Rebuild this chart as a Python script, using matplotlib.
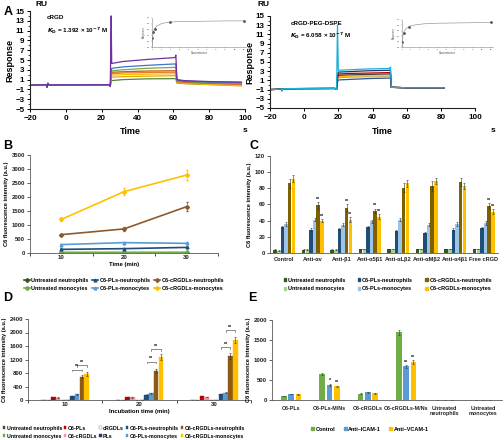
import numpy as np
import matplotlib
matplotlib.use("Agg")
import matplotlib.pyplot as plt
from matplotlib.patches import Patch
from matplotlib.lines import Line2D

plt.rcParams['font.family'] = ['Liberation Sans', 'DejaVu Sans']
plt.rcParams['font.weight'] = 'bold'
plt.rcParams['axes.labelweight'] = 'bold'

# ---------------- data ----------------
# Panel A (left): cRGD sensorgrams
tA = [-20, -11, -10.5, -10, -9.5, 24, 24.8, 25.3, 25.6, 32, 45, 61, 61.4, 62, 66, 80, 98]
A_colors = ['#548235', '#e6a800', '#ffc000', '#ed7d31', '#c55a11', '#70ad47', '#4472c4', '#7030a0']
A_curves = [
    [-0.15, -0.05, -0.5, 0.2, -0.1, -0.05, -0.3, 0.6, 0.8, 1.0, 1.15, 1.2, 1.2, 0.3, 0.2, 0.0, -0.1],
    [-0.15, -0.05, -0.5, 0.2, -0.1, -0.05, -0.3, 1.1, 1.5, 1.6, 1.7, 1.8, 1.8, 0.4, 0.2, 0.0, -0.3],
    [-0.15, -0.05, -0.5, 0.2, -0.1, -0.05, -0.3, 1.4, 1.9, 2.0, 2.1, 2.2, 2.2, 0.5, 0.3, 0.1, -0.2],
    [-0.15, -0.05, -0.5, 0.2, -0.1, -0.05, -0.3, 1.6, 2.2, 2.35, 2.45, 2.5, 2.5, 0.6, 0.4, 0.2, 0.0],
    [-0.15, -0.05, -0.5, 0.2, -0.1, -0.05, -0.3, 1.9, 2.5, 2.6, 2.75, 2.8, 2.8, 0.7, 0.5, 0.3, 0.1],
    [-0.15, -0.05, -0.5, 0.2, -0.1, -0.05, -0.3, 2.1, 2.8, 3.0, 3.3, 3.5, 3.5, 0.8, 0.6, 0.4, 0.2],
    [-0.15, -0.05, -0.5, 0.2, -0.1, -0.05, -0.3, 2.5, 3.3, 3.6, 3.9, 4.2, 4.2, 0.9, 0.7, 0.5, 0.4],
    [-0.15, -0.05, -0.6, 0.3, -0.1, -0.05, -0.4, 14.0, 4.3, 4.7, 5.1, 5.5, 6.0, 1.0, 0.8, 0.6, 0.5],
]
# Panel A (right): cRGD-PEG-DSPE sensorgrams
tR = [-20, -13.5, -13, -12.5, 18, 19, 19.5, 20, 26, 38, 50, 50.5, 51, 60, 82]
R_colors = ['#2f5597', '#a5a5a5', '#ffc000', '#404040', '#c00000', '#203864', '#1cb0d8']
R_curves = [
    [-1.0, -0.9, -1.2, -0.8, -0.75, -0.9, 0.6, 1.1, 1.2, 1.4, 1.5, 1.5, -0.5, -0.6, -0.6],
    [-1.0, -0.9, -1.2, -0.8, -0.75, -0.9, 1.0, 1.6, 1.7, 1.8, 1.8, 1.8, -0.5, -0.6, -0.6],
    [-1.0, -0.9, -1.2, -0.8, -0.75, -0.9, 1.2, 1.8, 1.9, 2.0, 2.0, 2.0, -0.5, -0.6, -0.6],
    [-1.0, -0.9, -1.2, -0.8, -0.75, -0.9, 1.4, 2.1, 2.2, 2.3, 2.4, 2.4, -0.5, -0.6, -0.6],
    [-1.0, -0.9, -1.2, -0.8, -0.75, -0.9, 1.6, 2.4, 2.5, 2.6, 2.7, 2.7, -0.5, -0.6, -0.6],
    [-1.0, -0.9, -1.2, -0.8, -0.75, -0.9, 1.9, 2.8, 2.9, 3.1, 3.2, 3.2, -0.5, -0.6, -0.6],
    [-1.0, -0.9, -1.3, -0.8, -0.75, -0.9, 13.0, 3.2, 3.3, 3.5, 3.6, 3.9, -0.5, -0.6, -0.6],
]
# insets (affinity fits)
inL_fit_x = [0, 0.2, 0.5, 1, 2, 3, 5, 8, 12, 16, 20]
inL_fit_y = [0.0, 0.45, 0.62, 0.72, 0.8, 0.84, 0.87, 0.88, 0.89, 0.9, 0.9]
inL_pts_x = [0.1, 0.3, 0.6, 4.0, 20]
inL_pts_y = [0.3, 0.5, 0.62, 0.86, 0.9]
inR_fit_x = [0, 0.2, 0.5, 1, 2, 3, 5, 8, 12, 16, 20]
inR_fit_y = [0.0, 0.4, 0.58, 0.7, 0.78, 0.82, 0.86, 0.88, 0.89, 0.9, 0.91]
inR_pts_x = [0.1, 0.4, 1.5, 20]
inR_pts_y = [0.2, 0.5, 0.74, 0.91]

# Panel B
B_times = ['10', '20', '30']
B_labels = ['Untreated neutrophils', 'Untreated monocytes', 'C6-PLs-neutrophils',
            'C6-PLs-monocytes', 'C6-cRGDLs-neutrophils', 'C6-cRGDLs-monocytes']
B_colors = ['#375623', '#70ad47', '#1f4e79', '#5b9bd5', '#8c5a2b', '#ffc000']
B_markers = ['D', 'D', '^', '^', 'D', 'D']
B_vals = [[10, 10, 12], [20, 22, 20], [130, 155, 200], [300, 370, 345],
          [655, 860, 1655], [1200, 2190, 2785]]
B_err = [[10, 10, 10], [10, 10, 10], [20, 25, 25], [25, 30, 30],
         [40, 60, 150], [60, 130, 170]]

# Panel C
C_cats = ['Control', 'Anti-αv', 'Anti-β1', 'Anti-α5β1', 'Anti-αLβ2', 'Anti-αMβ2',
          'Anti-α4β1', 'Free cRGD']
C_labels = B_labels
C_colors = ['#375623', '#a9d18e', '#1f4e79', '#9dc3e6', '#7f6000', '#ffc000']
C_vals = [
    [4, 4, 4, 5, 5, 5, 5, 5],
    [3, 4, 4, 5, 5, 5, 5, 5],
    [32, 29, 30, 32, 27, 25, 29, 31],
    [36, 41, 35, 39, 41, 35, 36, 37],
    [86, 59, 56, 52, 81, 83, 88, 58],
    [92, 40, 41, 45, 86, 89, 83, 51],
]
C_err = [
    [0.5, 0.5, 0.5, 0.5, 0.5, 0.5, 0.5, 0.5],
    [0.5, 0.5, 0.5, 0.5, 0.5, 0.5, 0.5, 0.5],
    [1.5, 1.5, 1.5, 1.5, 1.5, 1.5, 1.5, 1.5],
    [2, 2, 2, 2, 2, 2, 2, 2],
    [5, 4, 4, 3, 5, 6, 5, 4],
    [4, 2, 3, 3, 4, 4, 4, 3],
]
C_star_cats = [1, 2, 3, 7]

# Panel D
D_times = ['10', '20', '30']
D_labels = ['Untreated neutrophils', 'Untreated monocytes', 'C6-PLs', 'C6-cRGDLs',
            'cRGDLs', 'PLs', 'C6-PLs-neutrophils', 'C6-PLs-monocytes',
            'C6-cRGDLs-neutrophils', 'C6-cRGDLs-monocytes']
D_colors = ['#375623', '#70ad47', '#c00000', '#ff8fa0', '#ffffff', '#1f3864',
            '#1f4e79', '#5b9bd5', '#8c5a14', '#ffc000']
D_vals = [[3, 3, 3], [3, 3, 3], [80, 80, 110], [70, 80, 90], [2, 2, 2], [2, 2, 2],
          [110, 150, 175], [175, 195, 220], [690, 860, 1300], [775, 1270, 1780]]
D_err = [[2, 2, 2], [2, 2, 2], [10, 10, 10], [10, 10, 10], [1, 1, 1], [1, 1, 1],
         [15, 15, 15], [15, 15, 15], [50, 60, 80], [50, 80, 90]]
D_br_low = [900, 1140, 1570]
D_br_high = [1040, 1500, 2060]

# Panel E
E_cats = ['C6-PLs', 'C6-PLs-M/Ns', 'C6-cRGDLs', 'C6-cRGDLs-M/Ns',
          'Untreated\nneutrophils', 'Untreated\nmonocytes']
E_labels = ['Control', 'Anti–ICAM-1', 'Anti–VCAM-1']
E_colors = ['#70ad47', '#5b9bd5', '#ffc000']
E_vals = [[100, 660, 160, 1690, 2, 2],
          [150, 380, 190, 840, 2, 2],
          [140, 340, 170, 950, 2, 2]]
E_err = [[10, 25, 10, 60, 0, 0],
         [10, 20, 10, 30, 0, 0],
         [10, 20, 10, 40, 0, 0]]
E_stars = [(1, 1, '*'), (1, 2, '**'), (3, 1, '**'), (3, 2, '**')]

# ---------------- figure ----------------
W, H = 504, 440
fig = plt.figure(figsize=(W / 100, H / 100), dpi=100)


def ax_px(l, t, r, b):
    return fig.add_axes([l / W, 1 - b / H, (r - l) / W, (b - t) / H])


def style(ax, fs=4.3):
    for s in ['top', 'right']:
        ax.spines[s].set_visible(False)
    for s in ['left', 'bottom']:
        ax.spines[s].set_linewidth(0.6)
        ax.spines[s].set_color('#595959')
    ax.tick_params(labelsize=fs, width=0.5, length=2, pad=1.5, colors='#222222')


# ---- A sensorgrams
def sensorgram(ax, t, curves, colors):
    for y, c in zip(curves, colors):
        ax.plot(t, y, color=c, lw=0.9)
    ax.set_xlim(-20, 100)
    ax.set_ylim(-5, 15)
    ax.set_xticks(range(-20, 101, 20))
    ax.set_yticks(range(-5, 16, 2))
    ax.set_yticks(range(-4, 15, 2), minor=True)
    for s in ['top', 'right']:
        ax.spines[s].set_visible(False)
    for s in ['left', 'bottom']:
        ax.spines[s].set_linewidth(0.8)
        ax.spines[s].set_color('#222222')
    ax.tick_params(labelsize=5.8, width=0.7, length=2.5, pad=1.5)
    ax.tick_params(which='minor', length=1.5, width=0.5)
    ax.set_ylabel('Response', fontsize=6.5, labelpad=1)


axA1 = ax_px(30, 11, 245, 109)
sensorgram(axA1, tA, A_curves, A_colors)
axA1.text(0.08, 0.92, 'cRGD', transform=axA1.transAxes, fontsize=4.5)
axA1.text(0.08, 0.78, r'$K_{\rm D}$ = 1.392 × 10$^{-7}$ M', transform=axA1.transAxes, fontsize=4.5)

axA2 = ax_px(270, 16, 475, 108)
sensorgram(axA2, tR, R_curves, R_colors)
axA2.text(0.1, 0.9, 'cRGD-PEG-DSPE', transform=axA2.transAxes, fontsize=4.5)
axA2.text(0.1, 0.76, r'$K_{\rm D}$ = 6.058 × 10$^{-7}$ M', transform=axA2.transAxes, fontsize=4.5)

for l, t, r, b, fx, fy, px, py in [(152, 18, 246, 47, inL_fit_x, inL_fit_y, inL_pts_x, inL_pts_y),
                                   (402, 20, 493, 47, inR_fit_x, inR_fit_y, inR_pts_x, inR_pts_y)]:
    ins = ax_px(l, t, r, b)
    ins.plot(fx, fy, color='#9a9a9a', lw=0.5)
    ins.plot(px, py, 'o', ms=1.0, color='#555555')
    ins.set_xlim(0, 20.5)
    ins.set_ylim(0, 1.0)
    ins.set_xticks(range(0, 21, 2))
    ins.set_yticks([0, 0.2, 0.4, 0.6, 0.8, 1.0])
    ins.tick_params(labelsize=1.5, length=1, width=0.3, pad=0.5, colors='#777777')
    for s in ['top', 'right']:
        ins.spines[s].set_visible(False)
    for s in ['left', 'bottom']:
        ins.spines[s].set_linewidth(0.4)
        ins.spines[s].set_color('#888888')
    ins.set_xlabel('Concentration', fontsize=1.8, labelpad=0.5, color='#777777')
    ins.set_ylabel('Response', fontsize=1.8, labelpad=0.5, color='#777777')
    ins.patch.set_alpha(0)

fig.text(35 / W, 1 - 4 / H, 'RU', fontsize=6, va='center')
fig.text(258 / W, 1 - 4 / H, 'RU', fontsize=6, va='center')
fig.text(130 / W, 1 - 131 / H, 'Time', fontsize=6.5, va='center', ha='center')
fig.text(245 / W, 1 - 131 / H, 's', fontsize=6, va='center', ha='center')
fig.text(382 / W, 1 - 131 / H, 'Time', fontsize=6.5, va='center', ha='center')
fig.text(493 / W, 1 - 131 / H, 's', fontsize=6, va='center', ha='center')

# ---- B line chart
axB = ax_px(30, 155, 218, 253)
xb = np.arange(1, len(B_times) + 1)
hB = []
for lab, col, mk, v, e in zip(B_labels, B_colors, B_markers, B_vals, B_err):
    axB.errorbar(xb, v, yerr=e, color=col, marker=mk, ms=2, lw=1.2,
                 ecolor=col, elinewidth=0.5, capsize=0.8)
    hB.append(Line2D([0], [0], color=col, marker=mk, ms=2, lw=1.2))
axB.set_xlim(0.5, 3.5)
axB.set_ylim(0, 3500)
axB.set_yticks(range(0, 3501, 500))
axB.set_xticks(xb)
axB.set_xticklabels(B_times)
style(axB)
axB.tick_params(axis='x', length=0)
axB.set_xticks([0.5, 1.5, 2.5, 3.5], minor=True)
axB.tick_params(axis='x', which='minor', length=2, width=0.5)
axB.set_xlabel('Time (min)', fontsize=4.3, labelpad=1)
axB.set_ylabel('C6 fluorescence intensity (a.u.)', fontsize=4.1, labelpad=2)
fig.legend(hB, B_labels, loc='upper center', bbox_to_anchor=(124 / W, 1 - 275 / H), ncol=3,
           frameon=False, fontsize=4.0, handlelength=1.1, handletextpad=0.2,
           columnspacing=0.7, labelspacing=0.6, borderpad=0)

# ---- C bar chart
axC = ax_px(270, 156, 498, 253)
xc = np.arange(len(C_cats))
wC = 0.128
for i, (lab, col, v, e) in enumerate(zip(C_labels, C_colors, C_vals, C_err)):
    pos = xc + (i - 2.5) * wC
    axC.bar(pos, v, width=wC * 0.95, color=col, label=lab,
            yerr=e, error_kw=dict(elinewidth=0.4, capsize=0.8, capthick=0.4, ecolor='#333333'))
    if i >= 4:
        for k in C_star_cats:
            axC.text(pos[k], v[k] + e[k] + 0.5, '**', fontsize=3.8, ha='center', va='bottom')
axC.set_xlim(-0.5, len(C_cats) - 0.5)
axC.set_ylim(0, 120)
axC.set_yticks(range(0, 121, 20))
axC.set_xticks(xc)
axC.set_xticklabels(C_cats)
style(axC)
axC.tick_params(axis='x', length=0, labelsize=4.1, pad=3)
axC.set_ylabel('C6 fluorescence intensity (a.u.)', fontsize=4.1, labelpad=2)
hC = [Patch(color=c) for c in C_colors]
fig.legend(hC, C_labels, loc='upper center', bbox_to_anchor=(388 / W, 1 - 275 / H), ncol=3,
           frameon=False, fontsize=4.0, handlelength=0.5, handleheight=0.5, handletextpad=0.3,
           columnspacing=2.2, labelspacing=0.6, borderpad=0)

# ---- D grouped bars
axD = ax_px(28, 319, 251, 400)
xd = np.arange(len(D_times))
wD = 0.064
posD = []
for i, (lab, col, v, e) in enumerate(zip(D_labels, D_colors, D_vals, D_err)):
    pos = xd + (i - 4.5) * wD
    posD.append(pos)
    axD.bar(pos, v, width=wD * 0.95, color=col, edgecolor='#7f7f7f' if col == '#ffffff' else col,
            linewidth=0.3, label=lab,
            yerr=e, error_kw=dict(elinewidth=0.4, capsize=0.8, capthick=0.4, ecolor='#333333'))
for k in range(len(D_times)):
    for (a, b, y) in [(6, 8, D_br_low[k]), (7, 9, D_br_high[k])]:
        x0, x1 = posD[a][k], posD[b][k]
        axD.plot([x0, x0, x1, x1], [y - 50, y, y, y - 50], color='#333333', lw=0.4)
        axD.text((x0 + x1) / 2, y + 10, '**', fontsize=3.8, ha='center', va='bottom')
axD.set_xlim(-0.5, len(D_times) - 0.5)
axD.set_ylim(0, 2400)
axD.set_yticks(range(0, 2401, 400))
axD.set_xticks(xd)
axD.set_xticklabels(D_times)
style(axD)
axD.tick_params(axis='x', length=0)
axD.set_xticks([-0.5, 0.5, 1.5, 2.5], minor=True)
axD.tick_params(axis='x', which='minor', length=2, width=0.5)
axD.set_xlabel('Incubation time (min)', fontsize=4.3, labelpad=1)
axD.set_ylabel('C6 fluorescence intensity (a.u.)', fontsize=4.1, labelpad=2)
hD = [Patch(facecolor=c, edgecolor='#7f7f7f' if c == '#ffffff' else c, linewidth=0.3)
      for c in D_colors]
fig.legend(hD, D_labels, loc='upper left', bbox_to_anchor=(0 / W, 1 - 423 / H), ncol=5,
           frameon=False, fontsize=3.8, handlelength=0.5, handleheight=0.5, handletextpad=0.25,
           columnspacing=0.35, labelspacing=0.6, borderpad=0)

# ---- E grouped bars
axE = ax_px(272, 320, 502, 400)
xe = np.arange(len(E_cats))
wE = 0.19
for i, (lab, col, v, e) in enumerate(zip(E_labels, E_colors, E_vals, E_err)):
    pos = xe + (i - 1) * wE
    axE.bar(pos, v, width=0.15, color=col, label=lab,
            yerr=e, error_kw=dict(elinewidth=0.4, capsize=0.8, capthick=0.4, ecolor='#333333'))
for k, i, s in E_stars:
    pos = xe[k] + (i - 1) * wE
    axE.text(pos, E_vals[i][k] + E_err[i][k] + 15, s, fontsize=3.8, ha='center', va='bottom')
axE.set_xlim(-0.5, len(E_cats) - 0.5)
axE.set_ylim(0, 2000)
axE.set_yticks(range(0, 2001, 500))
axE.set_xticks(xe)
axE.set_xticklabels(E_cats, va='top')
style(axE)
axE.tick_params(axis='x', length=0, pad=4, labelsize=3.9)
axE.set_ylabel('C6 fluorescence intensity (a.u.)', fontsize=4.1, labelpad=2)
hE = [Patch(color=c) for c in E_colors]
fig.legend(hE, E_labels, loc='upper center', bbox_to_anchor=(370 / W, 1 - 424 / H), ncol=3,
           frameon=False, fontsize=4.0, handlelength=0.5, handleheight=0.5, handletextpad=0.3,
           columnspacing=1.5, borderpad=0)

# panel letters
for letter, x, y in [('A', 4, 12), ('B', 3, 146), ('C', 250, 146), ('D', 3, 298), ('E', 248, 298)]:
    fig.text(x / W, 1 - y / H, letter, fontsize=9, fontweight='bold', va='center')

fig.savefig('out.png', dpi=100)
